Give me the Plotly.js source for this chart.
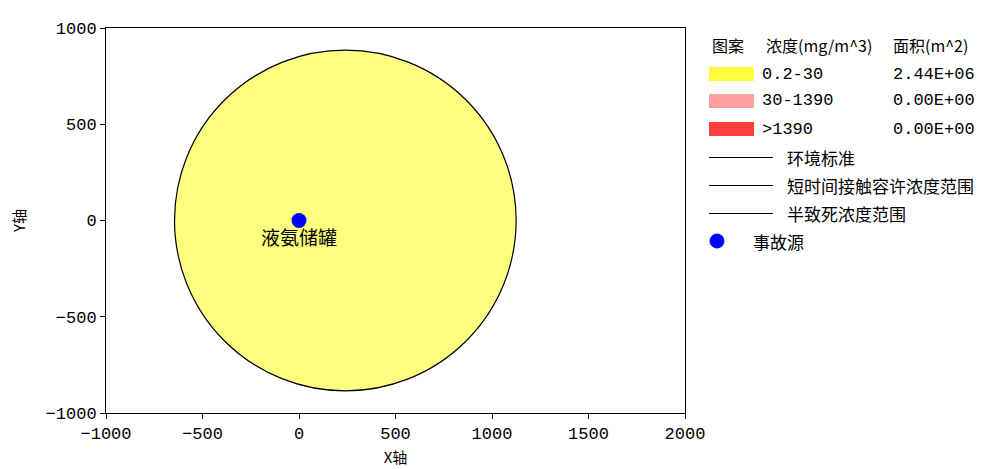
<!DOCTYPE html>
<html>
<head>
<meta charset="utf-8">
<script src="https://cdn.plot.ly/plotly-3.0.1.min.js"></script>
<style>html,body{margin:0;padding:0;background:#fff;}#chart{width:985px;height:469px;}</style>
</head>
<body>
<div id="chart"></div>
<script>
// ---- data ----
const xTickVals = [-1000, -500, 0, 500, 1000, 1500, 2000];
const yTickVals = [-1000, -500, 0, 500, 1000];
const zoneCenterX = [240];
const zoneCenterY = [0];
const zoneRadius = [885];
const sourceX = [0];
const sourceY = [0];
const sourceName = ['液氨储罐'];
const legendHeader = ['图案', '浓度(mg/m^3)', '面积(m^2)'];
const legendRanges = ['0.2-30', '30-1390', '>1390'];
const legendAreas = ['2.44E+06', '0.00E+00', '0.00E+00'];
const legendColors = ['rgb(255,255,60)', 'rgb(255,160,160)', 'rgb(255,64,64)'];
const lineLabels = ['环境标准', '短时间接触容许浓度范围', '半致死浓度范围'];
const sourceLabel = '事故源';

// ---- layout helpers (pixel -> paper) ----
const L = 106, R = 300, T = 28, B = 56, W = 985, H = 469;
const PW = W - L - R, PH = H - T - B;
const px = x => (x - L) / PW;
const py = y => (H - B - y) / PH;

const monoFont = 'Liberation Mono, Noto Sans CJK SC, monospace';
const cjkFont = 'Noto Sans CJK SC, Liberation Mono, sans-serif';

const traces = [{
  type: 'scatter', mode: 'markers+text',
  x: sourceX, y: sourceY, text: sourceName,
  textposition: 'bottom center',
  textfont: {family: cjkFont, size: 19, color: '#000'},
  marker: {color: 'rgb(0,0,255)', size: 15},
  hoverinfo: 'skip', showlegend: false, cliponaxis: false
}];

const shapes = [];
const annotations = [];

// concentration zone circle
zoneRadius.forEach((r, i) => {
  shapes.push({
    type: 'circle', xref: 'x', yref: 'y', layer: 'below',
    x0: zoneCenterX[i] - r, x1: zoneCenterX[i] + r,
    y0: zoneCenterY[i] - r, y1: zoneCenterY[i] + r,
    fillcolor: 'rgba(255,255,0,0.5)', line: {color: '#000', width: 1.2}
  });
});

function txt(text, x, y, font, size) {
  annotations.push({
    text: text, xref: 'paper', yref: 'paper', x: px(x), y: py(y),
    xanchor: 'left', yanchor: 'middle', showarrow: false,
    font: {family: font, size: size, color: '#000'}
  });
}

// legend header
txt(legendHeader[0], 710, 45, cjkFont, 16);
txt(legendHeader[1], 764, 45, cjkFont, 16);
txt(legendHeader[2], 891, 45, cjkFont, 16);

// colour rows
const rowY = [74, 101, 129];
legendRanges.forEach((r, i) => {
  shapes.push({
    type: 'rect', xref: 'paper', yref: 'paper',
    x0: px(709), x1: px(754), y0: py(rowY[i] + 7), y1: py(rowY[i] - 7),
    fillcolor: legendColors[i], line: {width: 0}
  });
  txt(r, 760, rowY[i], monoFont, 17);
  txt(legendAreas[i], 891, rowY[i], monoFont, 17);
});

// line rows
const lineY = [157, 185, 213];
lineLabels.forEach((lab, i) => {
  shapes.push({
    type: 'line', xref: 'paper', yref: 'paper',
    x0: px(709), x1: px(773), y0: py(lineY[i] + 0.5), y1: py(lineY[i] + 0.5),
    line: {color: '#000', width: 1}
  });
  txt(lab, 785, lineY[i], cjkFont, 17);
});

// source row
shapes.push({
  type: 'circle', xref: 'paper', yref: 'paper',
  x0: px(710), x1: px(724), y0: py(248), y1: py(234),
  fillcolor: 'rgb(0,0,255)', line: {color: 'rgb(0,0,255)', width: 1}
});
txt(sourceLabel, 751, 241, cjkFont, 17);

const axisCommon = {
  showline: true, linecolor: '#000', linewidth: 1, mirror: true,
  ticks: 'outside', ticklen: 5, tickcolor: '#000', tickwidth: 1,
  showgrid: false, zeroline: false,
  tickfont: {family: monoFont, size: 17, color: '#000'}
};

const layout = {
  width: W, height: H,
  margin: {l: L, r: R, t: T, b: B},
  paper_bgcolor: '#fff', plot_bgcolor: '#fff',
  showlegend: false,
  xaxis: Object.assign({}, axisCommon, {
    range: [-1000, 2000], tickvals: xTickVals, fixedrange: true,
    title: {text: 'X轴', font: {family: cjkFont, size: 15, color: '#000'}, standoff: 9}
  }),
  yaxis: Object.assign({}, axisCommon, {
    range: [-1000, 1000], tickvals: yTickVals, fixedrange: true,
    title: {text: 'Y轴', font: {family: cjkFont, size: 15, color: '#000'}, standoff: 16}
  }),
  shapes: shapes,
  annotations: annotations
};

Plotly.newPlot('chart', traces, layout, {displayModeBar: false, staticPlot: true});
</script>
</body>
</html>
